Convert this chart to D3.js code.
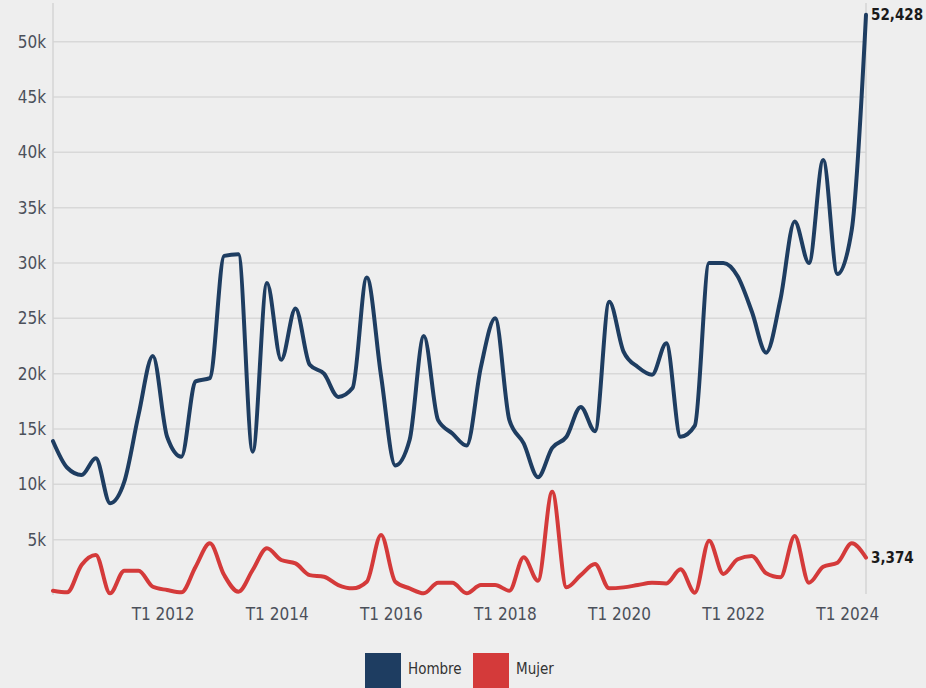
<html>
<head>
	<script src="https://d3js.org/d3.v7.min.js"></script>
	<style>
		body { margin: 0; background: #eeeeee; }
		text { font-family: "DejaVu Sans Condensed", "Liberation Sans Narrow", sans-serif; }
		text.narrow { font-family: "Liberation Sans Narrow", "DejaVu Sans Condensed", sans-serif; }
	</style>
</head>
<body>
<script>
// trimestres T1 2010 .. T2 2024
var quarters = ["T1 2010","T2 2010","T3 2010","T4 2010","T1 2011","T2 2011","T3 2011","T4 2011",
	"T1 2012","T2 2012","T3 2012","T4 2012","T1 2013","T2 2013","T3 2013","T4 2013",
	"T1 2014","T2 2014","T3 2014","T4 2014","T1 2015","T2 2015","T3 2015","T4 2015",
	"T1 2016","T2 2016","T3 2016","T4 2016","T1 2017","T2 2017","T3 2017","T4 2017",
	"T1 2018","T2 2018","T3 2018","T4 2018","T1 2019","T2 2019","T3 2019","T4 2019",
	"T1 2020","T2 2020","T3 2020","T4 2020","T1 2021","T2 2021","T3 2021","T4 2021",
	"T1 2022","T2 2022","T3 2022","T4 2022","T1 2023","T2 2023","T3 2023","T4 2023",
	"T1 2024","T2 2024"];

var hombre = [13900,11500,10850,12350,8300,10250,16300,21600,14300,12500,19300,19600,
	30650,30800,12950,28200,21250,25900,20800,20000,17900,18700,28700,19800,11700,14000,
	23400,15800,14600,13500,20600,25000,15800,13700,10650,13300,14300,17000,14800,26500,
	22000,20600,19900,22750,14300,15300,30000,30000,28800,25600,21900,26700,33750,30000,
	39300,29000,33000,52428];

var mujer = [390,240,2710,3620,150,2200,2200,750,450,240,2560,4670,1800,300,2260,4220,
	3160,2860,1800,1650,900,600,1200,5420,1200,600,150,1110,1110,150,900,900,390,3410,
	1290,9340,690,1800,2800,600,690,900,1110,1050,2320,210,4910,1900,3230,3530,1960,
	1600,5330,1110,2560,2920,4670,3374];

var yTicks = [5000,10000,15000,20000,25000,30000,35000,40000,45000,50000];
var xTicks = ["T1 2012","T1 2014","T1 2016","T1 2018","T1 2020","T1 2022","T1 2024"];
var seriesNames = ["Hombre","Mujer"];
var colors = ["#1e3d61","#d43a3a"];

var w = 926, h = 688;
var svg = d3.select("body").append("svg").attr("width", w).attr("height", h);

var x = d3.scalePoint().domain(quarters).range([53, 866]);
var y = d3.scaleLinear().domain([0, 50000]).range([595, 41.7]);

// lineas de la grilla
svg.selectAll(".grid").data(yTicks).enter().append("line")
	.attr("x1", 53).attr("x2", 866)
	.attr("y1", function(d){ return y(d); }).attr("y2", function(d){ return y(d); })
	.attr("stroke", "#d8d8d8").attr("stroke-width", 1.5);

// ejes verticales
svg.append("line").attr("x1", 53).attr("x2", 53).attr("y1", 3).attr("y2", 595)
	.attr("stroke", "#d4d4d4").attr("stroke-width", 1.5);
svg.append("line").attr("x1", 866).attr("x2", 866).attr("y1", 3).attr("y2", 594)
	.attr("stroke", "#d4d4d4").attr("stroke-width", 1.5);

// etiquetas eje y
svg.selectAll(".ylab").data(yTicks).enter().append("text")
	.attr("x", 46).attr("y", function(d){ return y(d); })
	.attr("dy", "0.35em").attr("text-anchor", "end")
	.attr("font-size", 17).attr("fill", "#4b505a")
	.text(function(d){ return (d / 1000) + "k"; });

// etiquetas eje x
svg.selectAll(".xlab").data(xTicks).enter().append("text")
	.attr("x", function(d){ return x(d) - 4; }).attr("y", 620)
	.attr("text-anchor", "middle")
	.attr("font-size", 17).attr("fill", "#4b505a")
	.text(function(d){ return d; });

var line = d3.line()
	.x(function(d, i){ return x(quarters[i]); })
	.y(function(d){ return y(d); })
	.curve(d3.curveMonotoneX);

[hombre, mujer].forEach(function(s, k){
	svg.append("path").attr("d", line(s))
		.attr("fill", "none").attr("stroke", colors[k])
		.attr("stroke-width", 4).attr("stroke-linejoin", "round").attr("stroke-linecap", "round");
	var last = s[s.length - 1];
	svg.append("text").attr("class", "narrow")
		.attr("x", x(quarters[quarters.length - 1]) + 5).attr("y", y(last))
		.attr("dy", "0.35em").attr("font-size", 15).attr("font-weight", "bold").attr("fill", "#1a1a1a")
		.text(d3.format(",")(last));
});

// leyenda
var lx = [365, 473];
seriesNames.forEach(function(n, k){
	svg.append("rect").attr("x", lx[k]).attr("y", 653).attr("width", 36).attr("height", 40)
		.attr("fill", colors[k]);
	svg.append("text").attr("class", "narrow").attr("x", lx[k] + 43).attr("y", 669).attr("dy", "0.35em")
		.attr("font-size", 15).attr("fill", "#333").text(n);
});
</script>
</body>
</html>
